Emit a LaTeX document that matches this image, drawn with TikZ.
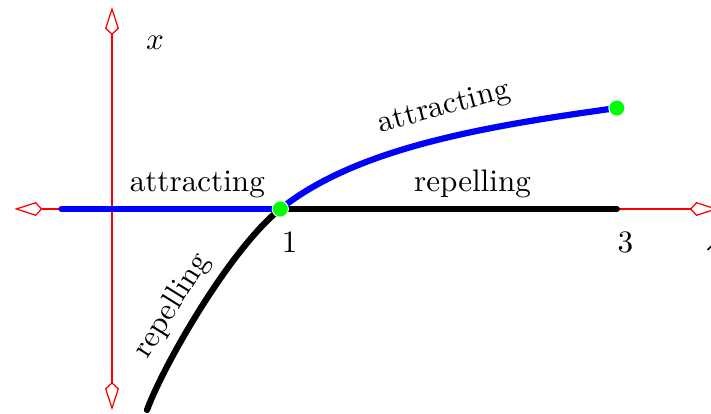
\documentclass[tikz,border=0pt]{standalone}
\usepackage{xcolor}
\usepackage{amsmath, amsfonts, amssymb}
\usetikzlibrary{arrows.meta}

\tikzset{
    ax/.style={red, >={Kite[open, length=9pt, width=4.5pt, inset=2.1pt]}, <->},
    branch/.style={line width=2pt, line cap=round},
    dot/.style={circle, fill=green, draw=white, line width=0.3pt, inner sep=0pt, minimum size=5.2pt}
}

\begin{document}
\begin{tikzpicture}[x=1.9cm, y=1.9cm]
    \useasboundingbox (-0.6655, -1.2181) rectangle (3.5594, 1.2418);

    \coordinate (lft) at (-0.58, 0);
    \coordinate (rgt) at (3.6, 0);
    \coordinate (bot) at (0, -1.195);
    \coordinate (top) at (0, 1.2);

    \coordinate (s0) at (-0.3, 0);
    \coordinate (bif) at (1, 0);
    \coordinate (e3) at (3, 0);
    \coordinate (up) at (3, 0.6);
    \coordinate (low) at (0.208, -1.194);

    \draw[ax] (lft) -- (rgt);
    \draw[ax] (bot) -- (top);

    \draw[branch, blue] (s0) -- (bif);
    \draw[branch] (bif) -- (e3);
    \draw[branch, blue] (bif) .. controls (1.45, 0.36) and (2.2, 0.49) .. (up);
    \draw[branch] (bif) .. controls (0.7, -0.24) and (0.308, -0.924) .. (low);

    \node[dot] (d1) at (bif) {};
    \node[dot] (d3) at (up) {};

    \node[above] (att1) at (0.507, 0) {attracting};
    \node[above] (rep1) at (2.142, 0) {repelling};
    \node[rotate=15] (att2) at (1.973, 0.60) {attracting};
    \node[rotate=58] (rep2) at (0.357, -0.576) {repelling};

    \node (xlab) at (0.255, 0.99) {$x$};
    \node (llab) at (3.581, -0.184) {$\lambda$};
    \node (one) at (1.055, -0.198) {$1$};
    \node (three) at (3.05, -0.198) {$3$};
\end{tikzpicture}
\end{document}
